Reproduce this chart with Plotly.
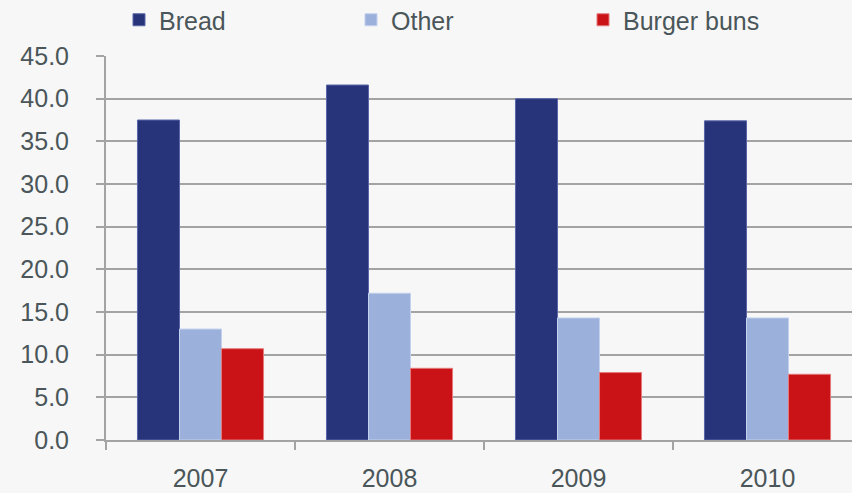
import plotly.graph_objects as go

years = ["2007", "2008", "2009", "2010"]
bread = [37.5, 41.6, 40.0, 37.4]
other = [13.0, 17.2, 14.3, 14.3]
burger_buns = [10.7, 8.4, 7.9, 7.7]
y_ticks = [0, 5, 10, 15, 20, 25, 30, 35, 40, 45]

font_color = "#4a5659"
grid_color = "#a3a3a3"
bg = "#f7f7f7"

fig = go.Figure()
fig.add_trace(go.Bar(name="Bread", x=years, y=bread,
                     marker=dict(color="#283479", line=dict(color="#5a66a8", width=1))))
fig.add_trace(go.Bar(name="Other", x=years, y=other,
                     marker=dict(color="#9bb0db", line=dict(color="#c3d0ee", width=1))))
fig.add_trace(go.Bar(name="Burger buns", x=years, y=burger_buns,
                     marker=dict(color="#c91317", line=dict(color="#e57a7c", width=1))))

fig.update_layout(
    width=852, height=493,
    paper_bgcolor=bg, plot_bgcolor=bg,
    margin=dict(l=106, r=0, t=56, b=53, autoexpand=False),
    barmode="group", bargap=0.333, bargroupgap=0,
    font=dict(family="Liberation Sans, Arial, sans-serif", size=25, color=font_color),
    showlegend=True,
    legend=dict(orientation="h", x=(119 - 106) / 746, xanchor="left",
                y=1 + (56 - 20) / 384, yanchor="middle",
                font=dict(size=25, color=font_color),
                entrywidth=187, entrywidthmode="pixels",
                bgcolor="rgba(0,0,0,0)"),
)

fig.update_xaxes(
    type="category", range=[-0.5, 3.447], automargin=False,
    showline=True, linecolor=grid_color, linewidth=2,
    ticks="outside", tickson="boundaries", ticklen=8, tickcolor=grid_color, tickwidth=2,
    showgrid=False, ticklabelstandoff=15,
    tickfont=dict(size=25, color=font_color),
)
fig.update_yaxes(
    range=[0, 45], tickvals=y_ticks, tickformat=".1f", automargin=False,
    showline=True, linecolor=grid_color, linewidth=2,
    ticks="outside", ticklen=8, tickcolor=grid_color, tickwidth=2,
    showgrid=True, gridcolor=grid_color, gridwidth=1.5,
    zeroline=False, ticklabelstandoff=22,
    tickfont=dict(size=25, color=font_color),
)

fig.write_html("out.html")
